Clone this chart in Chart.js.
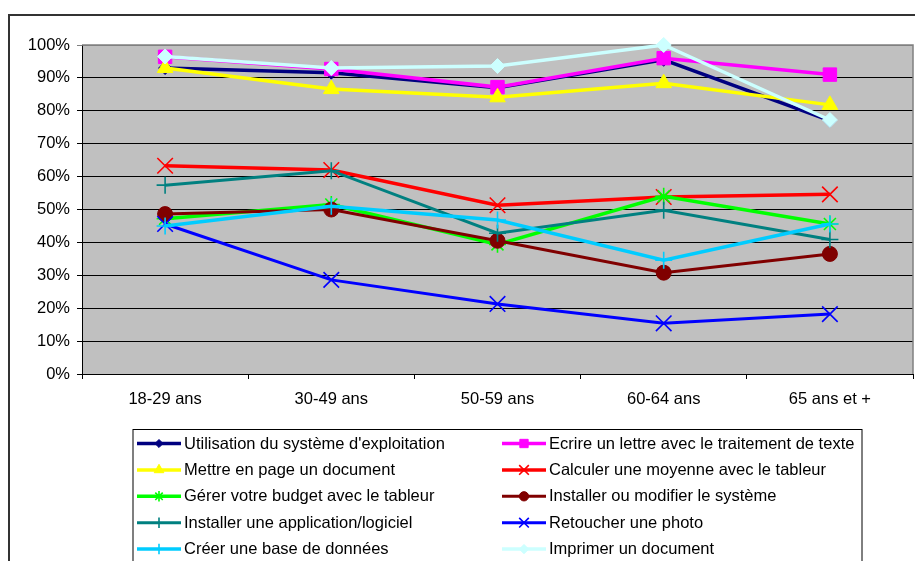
<!DOCTYPE html>
<html>
<head>
<meta charset="utf-8">
<script src="https://cdn.jsdelivr.net/npm/chart.js"></script>
<style>
  html, body { margin: 0; padding: 0; background: #fff; }
  canvas { display: block; }
</style>
</head>
<body>
<canvas id="myChart" width="915" height="561"></canvas>
<script>
// age groups on the x axis
var ageGroups = ["18-29 ans", "30-49 ans", "50-59 ans", "60-64 ans", "65 ans et +"];

// share of people able to do each task, in percent
var systemeExploitation = [93, 91.6, 87, 95.5, 77];
var ecrireLettre = [96.4, 92.7, 87.2, 96, 91];
var miseEnPage = [93, 86.6, 84.1, 88.4, 81.8];
var calculerMoyenne = [63.3, 62, 51.3, 53.8, 54.6];
var gererBudget = [47.2, 51.5, 39.4, 54, 45.6];
var installerSysteme = [48.6, 50, 40.5, 30.8, 36.5];
var installerAppli = [57.4, 61.8, 42.8, 49.8, 40.9];
var retoucherPhoto = [45.6, 28.6, 21.3, 15.4, 18.2];
var creerBase = [45, 51, 46.8, 34.6, 45.6];
var imprimerDocument = [96.5, 93, 93.6, 100, 77.2];

var yTicks = [0, 10, 20, 30, 40, 50, 60, 70, 80, 90, 100];

var FONT = "'Liberation Sans', Arial, sans-serif";
var FONT_SIZE = 16.5;

function serie(label, data, color, style, radius, lw) {
  var stroked = style === "cross" || style === "crossRot" || style === "star";
  return {
    label: label,
    data: data,
    borderColor: color,
    backgroundColor: color,
    borderWidth: lw || 3.5,
    pointStyle: style,
    pointRadius: radius,
    pointHoverRadius: radius,
    pointBackgroundColor: color,
    pointBorderColor: color,
    pointBorderWidth: stroked ? 1.6 : 1,
    tension: 0,
    fill: false,
    clip: false
  };
}

var datasets = [
  serie("Utilisation du système d'exploitation", systemeExploitation, "#000080", "rectRot", 6.5),
  serie("Ecrire un lettre avec le traitement de texte", ecrireLettre, "#ff00ff", "rect", 9.5),
  serie("Mettre en page un document", miseEnPage, "#ffff00", "triangle", 9),
  serie("Calculer une moyenne avec le tableur", calculerMoyenne, "#ff0000", "crossRot", 11),
  serie("Gérer votre budget avec le tableur", gererBudget, "#00ff00", "star", 8.5),
  serie("Installer ou modifier le système", installerSysteme, "#800000", "circle", 7.5, 3),
  serie("Installer une application/logiciel", installerAppli, "#008080", "cross", 8.5, 3),
  serie("Retoucher une photo", retoucherPhoto, "#0000ff", "crossRot", 11, 3),
  serie("Créer une base de données", creerBase, "#00ccff", "cross", 8.5),
  serie("Imprimer un document", imprimerDocument, "#ccffff", "rectRot", 7.5)
];
// later series are painted over earlier ones
datasets.forEach(function (d, i) { d.order = -i; });

// white page, outer frame and grey plot area, legend box at the bottom
var excelLook = {
  id: "excelLook",
  beforeDraw: function (chart) {
    var ctx = chart.ctx, a = chart.chartArea;
    ctx.save();
    ctx.fillStyle = "#fff";
    ctx.fillRect(0, 0, chart.width, chart.height);
    ctx.strokeStyle = "#333";
    ctx.lineWidth = 2;
    ctx.strokeRect(9, 15, chart.width + 20, chart.height + 20);
    ctx.fillStyle = "#c0c0c0";
    ctx.fillRect(a.left, a.top, a.right - a.left, a.bottom - a.top);
    ctx.restore();
  },
  beforeDatasetsDraw: function (chart) {
    var ctx = chart.ctx, a = chart.chartArea;
    ctx.save();
    ctx.strokeStyle = "#808080";
    ctx.lineWidth = 1.5;
    ctx.beginPath();
    ctx.moveTo(a.left, a.top);
    ctx.lineTo(a.right, a.top);
    ctx.lineTo(a.right, a.bottom);
    ctx.stroke();
    ctx.restore();
  },
  afterDraw: function (chart) {
    var ctx = chart.ctx;
    var boxX = 133, boxY = 429.5, boxW = 729, rowH = 26.4;
    ctx.save();
    ctx.strokeStyle = "#000";
    ctx.lineWidth = 1;
    ctx.strokeRect(boxX, boxY, boxW, 200);
    ctx.font = FONT_SIZE + "px " + FONT;
    ctx.textBaseline = "middle";
    ctx.fillStyle = "#000";
    chart.data.datasets.forEach(function (ds, i) {
      var col = i % 2, row = Math.floor(i / 2);
      var x0 = col === 0 ? 137 : 502;
      var y = 443.5 + row * rowH;
      ctx.strokeStyle = ds.borderColor;
      ctx.lineWidth = ds.borderWidth;
      ctx.beginPath();
      ctx.moveTo(x0, y);
      ctx.lineTo(x0 + 44, y);
      ctx.stroke();
      ctx.fillStyle = ds.pointBackgroundColor;
      ctx.strokeStyle = ds.pointBorderColor;
      ctx.lineWidth = ds.pointBorderWidth;
      Chart.helpers.drawPoint(ctx, {
        pointStyle: ds.pointStyle,
        radius: ds.pointRadius * 0.62,
        borderWidth: ds.pointBorderWidth,
        rotation: 0
      }, x0 + 22, y);
      ctx.fillStyle = "#000";
      ctx.fillText(ds.label, x0 + 47, y + 0.5);
    });
    ctx.restore();
  }
};

var ctx = document.getElementById("myChart").getContext("2d");
var myChart = new Chart(ctx, {
  type: "line",
  data: {
    labels: ageGroups,
    datasets: datasets
  },
  plugins: [excelLook],
  options: {
    responsive: false,
    animation: false,
    layout: { autoPadding: false, padding: { top: 45, right: 2, left: 0, bottom: 0 } },
    plugins: {
      legend: { display: false },
      tooltip: { enabled: false }
    },
    scales: {
      x: {
        offset: true,
        afterFit: function (s) {
          s.height = 187;
          s.paddingLeft = 0;
          s.paddingRight = 0;
        },
        grid: {
          offset: true,
          drawOnChartArea: false,
          drawTicks: true,
          tickLength: 5,
          color: "#000"
        },
        border: { color: "#000", width: 1 },
        ticks: {
          color: "#000",
          padding: 11,
          maxRotation: 0,
          font: { family: FONT, size: FONT_SIZE }
        }
      },
      y: {
        min: 0,
        max: 100,
        afterFit: function (s) { s.width = 82; },
        afterBuildTicks: function (s) {
          s.ticks = yTicks.map(function (v) { return { value: v }; });
        },
        grid: {
          color: function (c) { return c.tick && c.tick.value === 100 ? "#808080" : "#000"; },
          lineWidth: 1,
          tickLength: 5
        },
        border: { color: "#000", width: 1 },
        ticks: {
          color: "#000",
          padding: 7,
          font: { family: FONT, size: FONT_SIZE },
          callback: function (v) { return v + "%"; }
        }
      }
    }
  }
});
</script>
</body>
</html>
